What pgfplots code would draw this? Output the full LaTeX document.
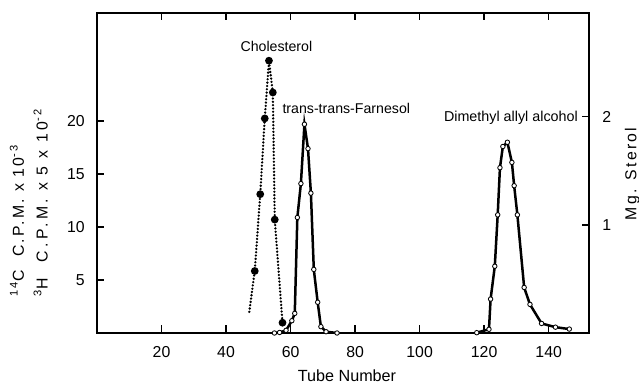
\documentclass[border=0pt]{standalone}
\usepackage{fontspec}
\setmainfont{Liberation Sans}
\newfontfamily\lsfont[LetterSpace=15]{Liberation Sans}
\newfontfamily\lsfontb[LetterSpace=22]{Liberation Sans}
\newfontfamily\lsfontc[LetterSpace=14]{Liberation Sans}
\usepackage{pgfplots}
\pgfplotsset{compat=1.18}
\begin{document}
\begin{tikzpicture}
\useasboundingbox (-58.2pt,-30pt) rectangle (325.2pt,199.8pt);
\begin{axis}[
  scale only axis, width=295.2pt, height=192pt,
  at={(0pt,0pt)}, anchor=south west,
  xmin=0, xmax=152.5, ymin=0, ymax=30.2,
  xtick={20,40,60,80,100,120,140},
  ytick={5,10,15,20},
  ytick pos=left, xtick pos=both,
  tick align=inside,
  major tick length=4.5pt,
  axis line style={line width=0.9pt},
  every tick/.style={line width=0.8pt, black},
  tick label style={font=\fontsize{9.5}{11}\selectfont},
  /pgf/number format/assume math mode=true,
  xticklabel style={anchor=center, yshift=-11.7pt},
  yticklabel style={anchor=east, inner sep=0pt, xshift=-7.2pt},
  clip=false,
]
% Cholesterol (dotted, filled dots)
\addplot[black, line width=1.55pt, line cap=round, dash pattern=on 0pt off 2.0pt,
  mark=*, mark size=1.5pt, mark indices={2,3,4,5,6,7,8},
  mark options={solid, fill=black}] coordinates {
  (47.2,2.0) (48.9,5.85) (50.6,13.1) (52.0,20.25) (53.3,25.7)
  (54.5,22.7) (55.1,10.7) (57.5,0.97)
};
% trans-trans-Farnesol (solid, open circles)
\addplot[black, line width=1.5pt, mark=*, mark size=1.35pt,
  mark options={fill=white, draw=black, line width=0.5pt}] coordinates {
  (55.0,0.0) (56.6,0.05) (58.6,0.25) (60.4,1.16) (61.3,1.85)
  (62.1,10.9) (63.2,14.1) (64.3,19.7) (65.4,17.4) (66.3,13.2)
  (67.2,6.0) (68.4,2.9) (69.4,0.6) (71.0,0.12) (74.4,0.0)
};
% Dimethyl allyl alcohol (solid, open circles)
\addplot[black, line width=1.5pt, mark=*, mark size=1.35pt,
  mark options={fill=white, draw=black, line width=0.5pt}] coordinates {
  (117.7,0.03) (121.5,0.35) (122.0,3.2) (123.3,6.3) (124.2,11.15)
  (124.9,15.6) (125.8,17.6) (127.2,18.0) (128.6,16.1) (129.3,13.9)
  (130.3,11.15) (132.4,4.3) (134.2,2.7) (137.8,0.9) (142.1,0.55)
  (146.4,0.37)
};
\node[font=\fontsize{8.5}{10}\selectfont] at (axis cs:55.6,27.0) {Cholesterol};
\node[font=\fontsize{8.5}{10}\selectfont, anchor=west, inner sep=0pt] at (axis cs:57.4,21.2) {trans-trans-Farnesol};
\node[font=\fontsize{8.6}{10}\selectfont] at (axis cs:128.3,20.3) {Dimethyl allyl alcohol};
\end{axis}
\begin{axis}[
  scale only axis, width=295.2pt, height=192pt,
  at={(0pt,0pt)}, anchor=south west,
  xmin=0, xmax=152.5, ymin=0, ymax=2.96,
  hide x axis,
  axis y line*=right,
  ytick={1,2},
  tick align=inside,
  major tick length=4.5pt,
  axis line style={line width=0.9pt, -},
  every tick/.style={line width=0.8pt, black},
  tick label style={font=\fontsize{9.5}{11}\selectfont},
  /pgf/number format/assume math mode=true,
  yticklabel style={anchor=west, inner sep=0pt, xshift=7.8pt},
]
\end{axis}
\node[rotate=90, anchor=base west, inner sep=0pt, font=\lsfont\fontsize{9.5}{10}\selectfont] at (-43.8pt,21.6pt) {\textsuperscript{14}C\ \ C.P.M. x 10\textsuperscript{-3}};
\node[rotate=90, anchor=base west, inner sep=0pt, font=\lsfontb\fontsize{9.5}{10}\selectfont] at (-29.6pt,21.6pt) {\textsuperscript{3}H\ \ C.P.M. x 5 x 10\textsuperscript{-2}};
\node[rotate=90, anchor=base, inner sep=0pt, font=\lsfontc\fontsize{9.5}{11}\selectfont] at (323.6pt,95.4pt) {Mg. Sterol};
\node[anchor=base, inner sep=0pt, font=\fontsize{9.7}{11}\selectfont] at (150pt,-29.4pt) {Tube Number};
\end{tikzpicture}
\end{document}
